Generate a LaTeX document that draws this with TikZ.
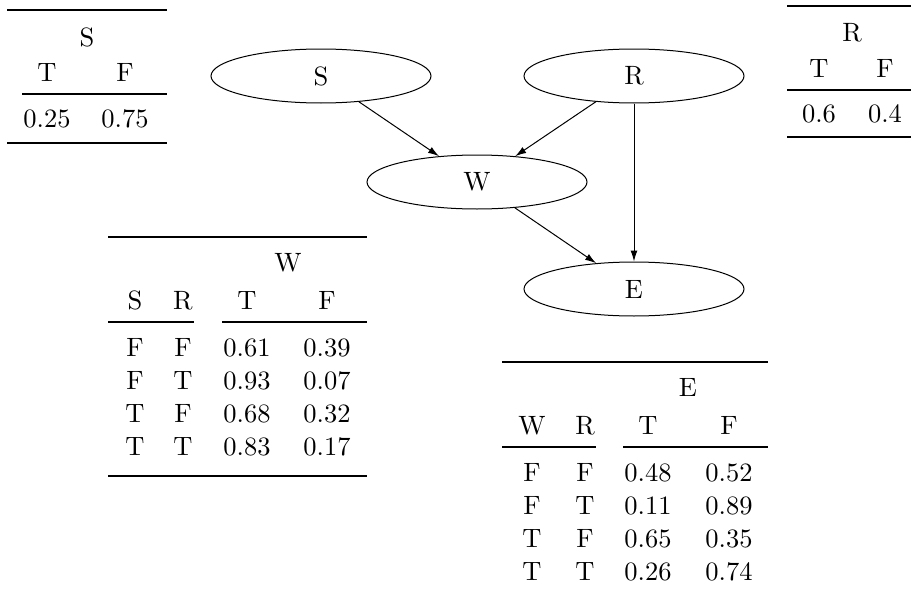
\documentclass[tikz,border=0pt]{standalone}
\usepackage{fontspec}
\setmainfont{lmroman10-regular}[Extension=.otf]
\usetikzlibrary{shapes.geometric,arrows.meta}
\begin{document}
\begin{tikzpicture}[x=1pt,y=-1pt,
  txt/.style={inner sep=0pt, anchor=base, font=\fontsize{26.5}{32}\selectfont},
  ell/.style={draw, ellipse, line width=1pt, minimum width=220pt, minimum height=54pt, inner sep=0pt, font=\fontsize{26.5}{32}\selectfont},
  arr/.style={line width=1pt, -{Latex[length=11pt,width=7pt]}},
  thickrule/.style={line width=2.4pt},
  thinrule/.style={line width=1.2pt}]
\useasboundingbox (0,0) rectangle (911,597);

% graph
\node[ell] (S) at (321,76) {S};
\node[ell] (R) at (634,76) {R};
\node[ell] (W) at (477,182) {W};
\node[ell] (E) at (634,289) {E};
\draw[arr] (S) -- (W);
\draw[arr] (R) -- (W);
\draw[arr] (W) -- (E);
\draw[arr] (R) -- (E);

% table S
\draw[thickrule] (7,10) -- (167,10);
\node[txt] (sS) at (87,46) {S};
\node[txt] (sT) at (47,81) {T};
\node[txt] (sF) at (125,81) {F};
\draw[thinrule] (22,94) -- (167,94);
\node[txt] (sv1) at (47,127) {0.25};
\node[txt] (sv2) at (125,127) {0.75};
\draw[thickrule] (7,143) -- (167,143);

% table R
\draw[thickrule] (787,6) -- (911,6);
\node[txt] (rR) at (852,41) {R};
\node[txt] (rT) at (819,77) {T};
\node[txt] (rF) at (885,77) {F};
\draw[thinrule] (787,90) -- (911,90);
\node[txt] (rv1) at (819,122) {0.6};
\node[txt] (rv2) at (885,122) {0.4};
\draw[thickrule] (787,137) -- (911,137);

% table W
\draw[thickrule] (108,237) -- (367,237);
\node[txt] (wW) at (288,271) {W};
\node[txt] (wS) at (135,309) {S};
\node[txt] (wR) at (183,309) {R};
\node[txt] (wT) at (247,309) {T};
\node[txt] (wF) at (327,309) {F};
\draw[thinrule] (108,322) -- (194,322);
\draw[thinrule] (222,322) -- (367,322);
\node[txt] (w11) at (135,356) {F};
\node[txt] (w12) at (183,356) {F};
\node[txt] (w13) at (247,356) {0.61};
\node[txt] (w14) at (327,356) {0.39};
\node[txt] (w21) at (135,389) {F};
\node[txt] (w22) at (183,389) {T};
\node[txt] (w23) at (247,389) {0.93};
\node[txt] (w24) at (327,389) {0.07};
\node[txt] (w31) at (135,422) {T};
\node[txt] (w32) at (183,422) {F};
\node[txt] (w33) at (247,422) {0.68};
\node[txt] (w34) at (327,422) {0.32};
\node[txt] (w41) at (135,455) {T};
\node[txt] (w42) at (183,455) {T};
\node[txt] (w43) at (247,455) {0.83};
\node[txt] (w44) at (327,455) {0.17};
\draw[thickrule] (108,476) -- (367,476);

% table E
\draw[thickrule] (502,362) -- (768,362);
\node[txt] (eE) at (688,396) {E};
\node[txt] (eW) at (532,434) {W};
\node[txt] (eR) at (585,434) {R};
\node[txt] (eT) at (648,434) {T};
\node[txt] (eF) at (729,434) {F};
\draw[thinrule] (502,447) -- (596,447);
\draw[thinrule] (623,447) -- (768,447);
\node[txt] (e11) at (532,481) {F};
\node[txt] (e12) at (585,481) {F};
\node[txt] (e13) at (648,481) {0.48};
\node[txt] (e14) at (729,481) {0.52};
\node[txt] (e21) at (532,514) {F};
\node[txt] (e22) at (585,514) {T};
\node[txt] (e23) at (648,514) {0.11};
\node[txt] (e24) at (729,514) {0.89};
\node[txt] (e31) at (532,547) {T};
\node[txt] (e32) at (585,547) {F};
\node[txt] (e33) at (648,547) {0.65};
\node[txt] (e34) at (729,547) {0.35};
\node[txt] (e41) at (532,580) {T};
\node[txt] (e42) at (585,580) {T};
\node[txt] (e43) at (648,580) {0.26};
\node[txt] (e44) at (729,580) {0.74};
\end{tikzpicture}
\end{document}
